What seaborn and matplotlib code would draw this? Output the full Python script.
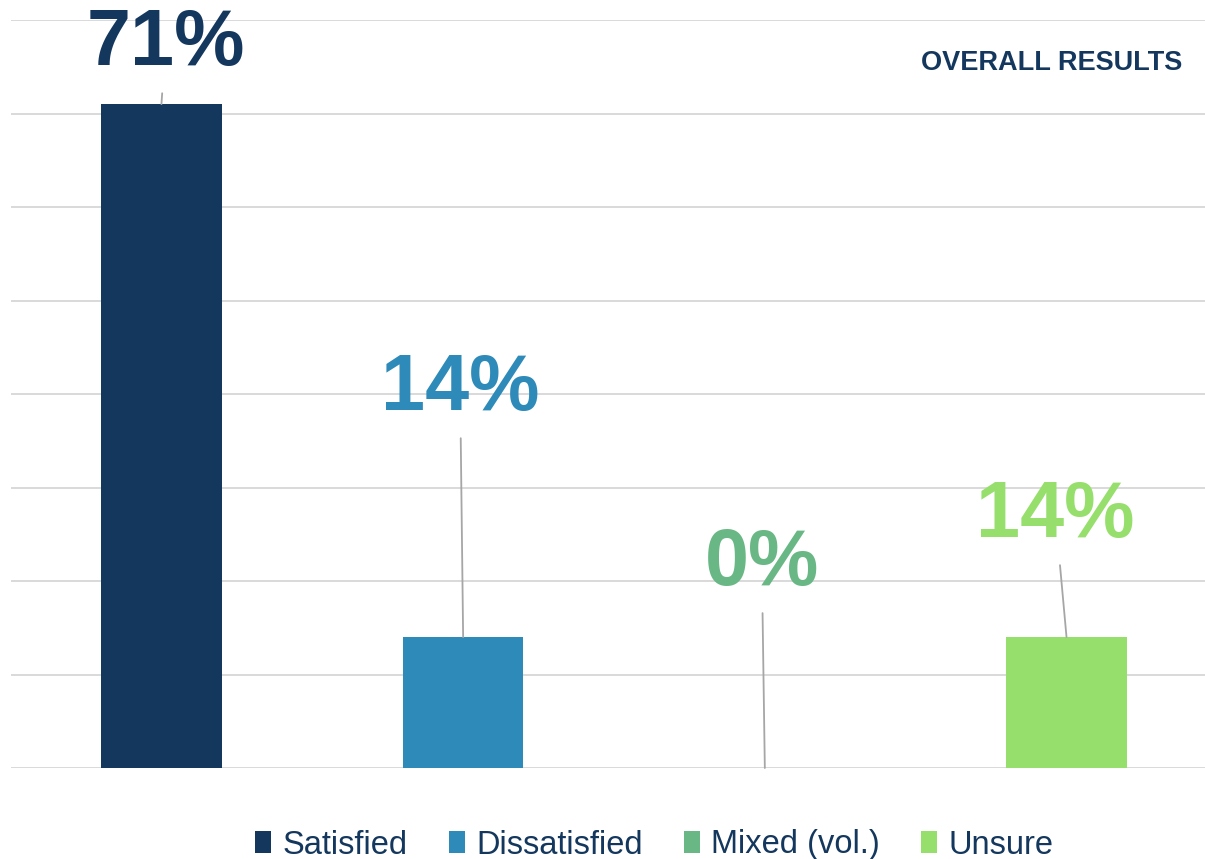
import matplotlib
matplotlib.use("Agg")
import pandas as pd
import seaborn as sns
import matplotlib.pyplot as plt
from matplotlib.patches import Patch

# data
categories = ["Satisfied", "Dissatisfied", "Mixed (vol.)", "Unsure"]
values = [71, 14, 0, 14]
colors = ["#14375E", "#2E8AB8", "#69B784", "#96DF6C"]
# where each value label sits relative to its bar top (pixels)
label_offsets = [(4, 60), (-3, 248), (-3, 204), (-11, 121)]

navy = "#14375E"

sns.set_theme(style="white")
plt.rcParams["font.family"] = ["Liberation Sans", "DejaVu Sans"]

df = pd.DataFrame({"category": categories, "value": values})

fig = plt.figure(figsize=(12.05, 8.59), dpi=100)
ax = fig.add_axes([10.6 / 1205, 91 / 859, (1205 - 10.6) / 1205, 748 / 859])

sns.barplot(data=df, x="category", y="value", hue="category", palette=colors,
            width=0.4, saturation=1, legend=False, ax=ax, zorder=3,
            edgecolor="none")

ax.set_ylim(0, 80)
ax.set_xlim(-0.5, 3.459)
ax.set_yticks(range(0, 81, 10))
ax.yaxis.grid(True, color="#D9D9D9", lw=1.4, zorder=0)
ax.set_axisbelow(True)
ax.set_xticks([])
ax.set_yticklabels([])
ax.tick_params(left=False, bottom=False)
ax.set_xlabel("")
ax.set_ylabel("")
for s in ax.spines.values():
    s.set_visible(False)

# value labels with leader lines
for i, (v, c, off) in enumerate(zip(values, colors, label_offsets)):
    ax.annotate(f"{v}%", xy=(i, v), xytext=off, textcoords="offset pixels",
                ha="center", va="center", fontsize=57, fontweight="bold",
                color=c, annotation_clip=False,
                arrowprops=dict(arrowstyle="-", color="#A6A6A6", lw=1.3,
                                shrinkA=6, shrinkB=0))

fig.text(1182 / 1205, 1 - 63 / 859, "OVERALL RESULTS", ha="right", va="center",
         fontsize=19.5, fontweight="bold", color=navy)

handles = [Patch(facecolor=c, edgecolor="none", label=l) for c, l in zip(colors, categories)]
leg = fig.legend(handles=handles, loc="center", bbox_to_anchor=(0.543, 14 / 859),
                 ncol=4, frameon=False, fontsize=23.5, handlelength=0.5,
                 handleheight=0.65, handletextpad=0.35, columnspacing=1.25)
for t in leg.get_texts():
    t.set_color(navy)

fig.savefig("out.png", dpi=100)
